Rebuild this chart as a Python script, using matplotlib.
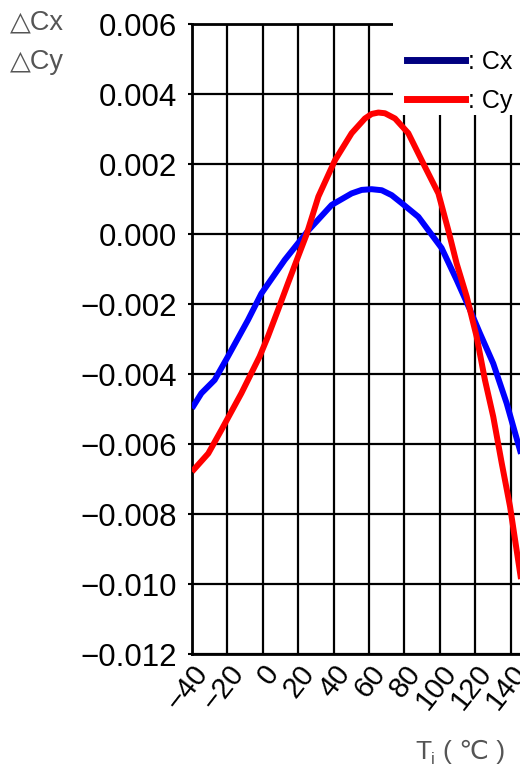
import matplotlib
matplotlib.use("Agg")
import matplotlib.pyplot as plt
from matplotlib.lines import Line2D
from matplotlib.patches import Rectangle

plt.rcParams["font.family"] = ["Liberation Sans", "DejaVu Sans"]

# temperature (°C) vs chromaticity shift
cx_temp = [-40, -34.7, -27.2, -19.7, -8.4, -0.8, 12.4, 25.5, 38.9, 50.2, 55.9, 61.5,
           67.2, 72.8, 78.5, 87.9, 101, 109.5, 117.1, 122.7, 130.2, 137.8, 146]
cx_shift = [-0.00498, -0.00455, -0.00417, -0.00350, -0.00246, -0.00170, -0.00074,
            0.00009, 0.00083, 0.00116, 0.00126, 0.00128, 0.00125, 0.00111, 0.00088,
            0.00049, -0.00040, -0.00131, -0.00217, -0.00284, -0.00370, -0.00484,
            -0.00630]

cy_temp = [-40, -30.8, -23.4, -12.1, -1.8, 2.9, 8.6, 14.2, 19.9, 24.6, 31.4, 40.8,
           50.2, 57.7, 61.5, 65.3, 69, 74.7, 82.2, 91.6, 99.2, 104.8, 109.5, 115.2,
           120.8, 125.5, 130.2, 135, 139.7, 146]
cy_shift = [-0.00679, -0.00627, -0.00560, -0.00455, -0.00350, -0.00293, -0.00217,
            -0.00141, -0.00065, -0.00003, 0.00107, 0.00211, 0.00288, 0.00330,
            0.00343, 0.00347, 0.00345, 0.00330, 0.00288, 0.00192, 0.00116, 0.00011,
            -0.00084, -0.00179, -0.00293, -0.00417, -0.00522, -0.00655, -0.00779,
            -0.00990]

x_ticks = [-40, -20, 0, 20, 40, 60, 80, 100, 120, 140, 160]
y_ticks = [-0.012, -0.010, -0.008, -0.006, -0.004, -0.002, 0.000, 0.002, 0.004, 0.006]

W, H = 520, 766
fig = plt.figure(figsize=(W / 100, H / 100), dpi=100)
# axes runs past the right edge, the reference is cropped there
ax = fig.add_axes([192 / W, 1 - 654 / H, 354 / W, 630 / H])

ax.plot(cx_temp, cx_shift, color="#0000ff", lw=4.3, zorder=4,
        solid_capstyle="butt", solid_joinstyle="round")
ax.plot(cy_temp, cy_shift, color="#ff0000", lw=4.3, zorder=4,
        solid_capstyle="butt", solid_joinstyle="round")

ax.set_xlim(-40, 160)
ax.set_ylim(-0.012, 0.006)
ax.set_xticks(x_ticks)
ax.set_yticks(y_ticks)
ax.set_xticklabels([str(t).replace("-", "\u2212") if t < 160 else "" for t in x_ticks],
                   rotation=52, ha="right", va="top", rotation_mode="anchor", fontsize=21)
ax.set_yticklabels([f"{v:.3f}".replace("-", "\u2212") for v in y_ticks], fontsize=22.5)
ax.tick_params(axis="x", length=0, pad=4)
ax.tick_params(axis="y", length=3, width=1.5, pad=8)
ax.grid(True, color="black", lw=1.6)
for s in ax.spines.values():
    s.set_linewidth(2)

# white patch behind the legend hides grid lines there
ax.add_patch(Rectangle((393 / W, 1 - 115 / H), 0.4, 0.2, transform=fig.transFigure,
                       facecolor="white", edgecolor="none", zorder=3, clip_on=False))
handles = [Line2D([], [], color="#000080", lw=5), Line2D([], [], color="#ff0000", lw=5)]
leg = ax.legend(handles, [": Cx", ": Cy"], loc="upper left",
                bbox_to_anchor=(407 / W, 1 - 50 / H), bbox_transform=fig.transFigure,
                frameon=False, fontsize=18, handlelength=2.3, handletextpad=0.15,
                labelspacing=0.6, borderpad=0, borderaxespad=0)
leg.set_zorder(5)

fig.text(10 / W, 1 - 22 / H, "\u25b3Cx", color="#555555", fontsize=19.5, va="center")
fig.text(10 / W, 1 - 62 / H, "\u25b3Cy", color="#555555", fontsize=19.5, va="center")
fig.text(415 / W, 1 - 752 / H, "T", color="#555555", fontsize=19, va="center")
fig.text(431 / W, 1 - 760 / H, "i", color="#555555", fontsize=12, va="center")
fig.text(443 / W, 1 - 752 / H, "( \u2103 )", color="#555555", fontsize=19, va="center")

fig.savefig("out.png", dpi=100)
